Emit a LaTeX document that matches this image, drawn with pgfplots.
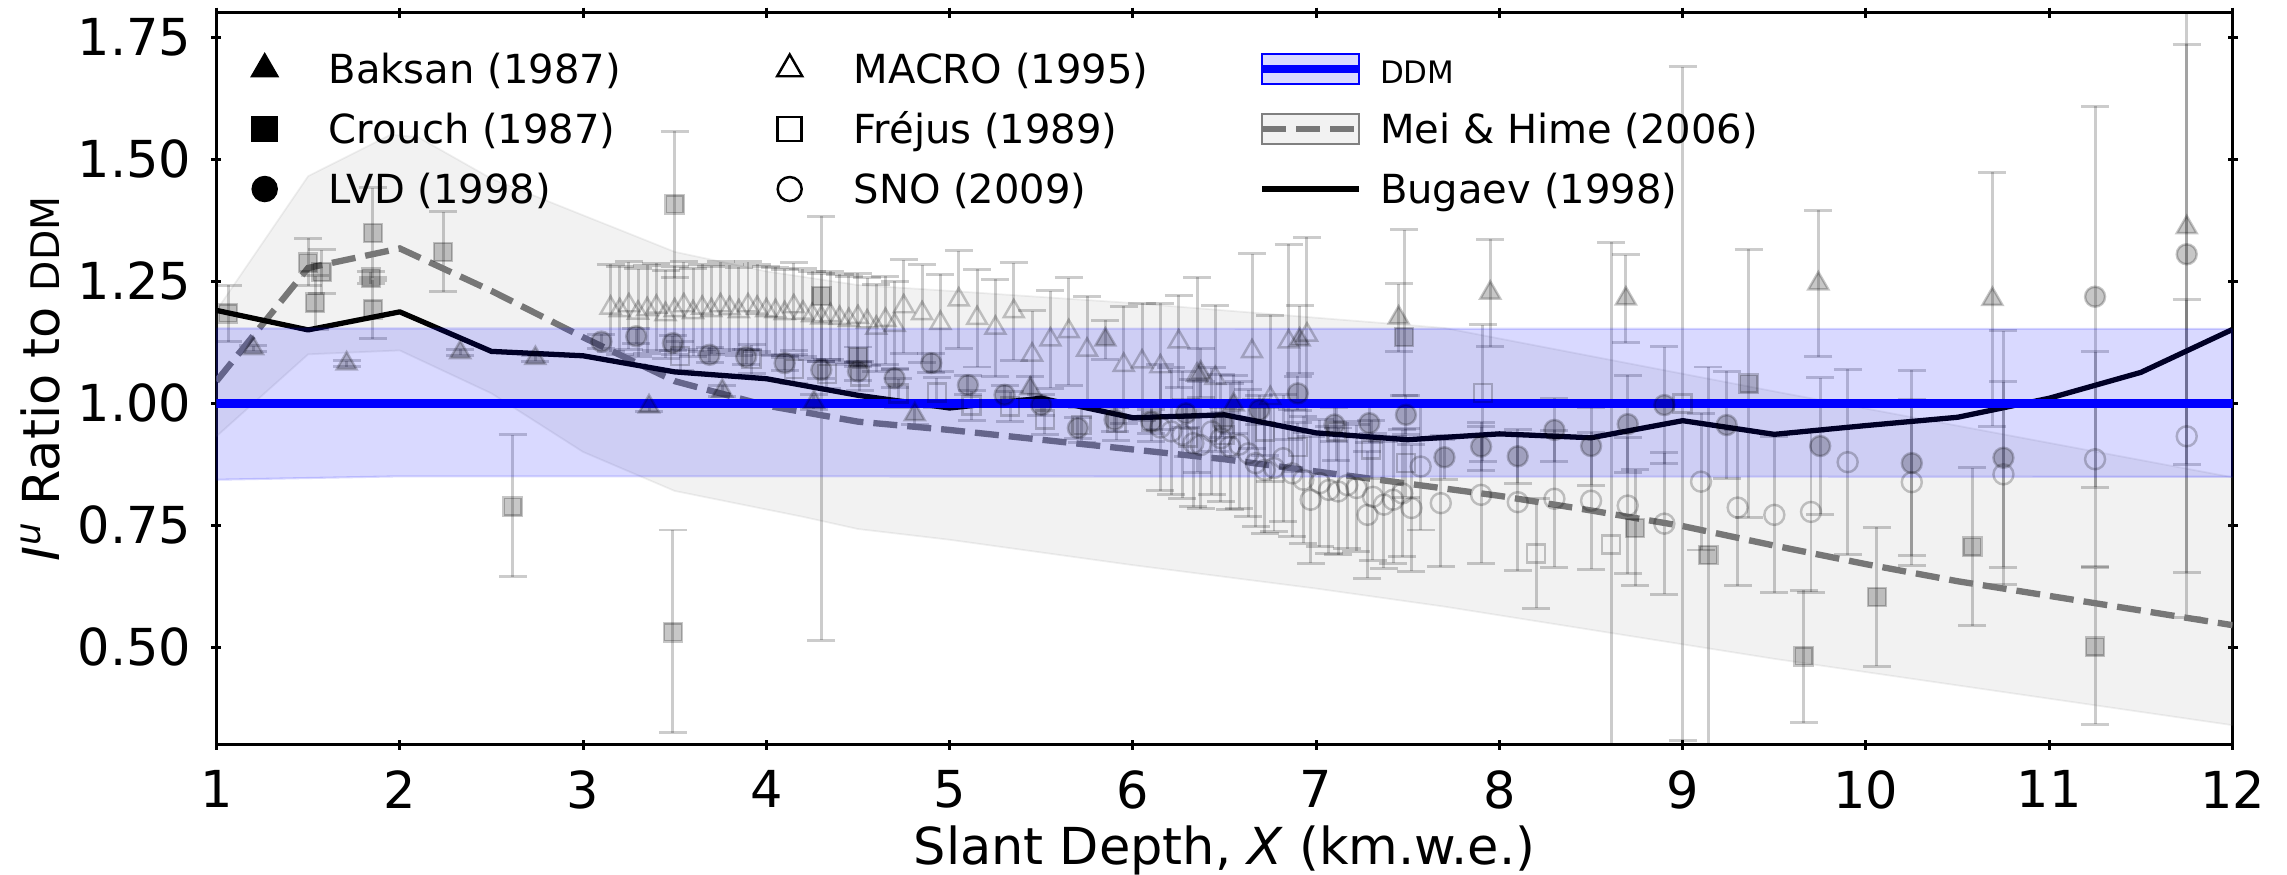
\documentclass[border=0pt]{standalone}
\usepackage{fontspec}
\setmainfont{DejaVu Sans}
\usepackage{pgfplots}
\usepackage{pgfplotstable}
\pgfplotsset{compat=1.18}

\definecolor{meiline}{HTML}{777777}

% point data: x = slant depth, y = ratio, e = error (or ep/em)
\pgfplotstableread{
x y e
1.20 1.112 0.006
1.71 1.081 0.006
2.33 1.104 0.006
2.74 1.092 0.006
3.36 0.993 0.010
3.76 1.025 0.012
4.26 1.002 0.015
4.81 0.977 0.020
5.44 1.030 0.025
5.85 1.130 0.040
6.37 1.062 0.050
6.55 0.997 0.060
6.91 1.130 0.070
7.45 1.175 0.070
7.95 1.226 0.110
8.69 1.214 0.090
9.74 1.245 0.150
10.69 1.213 0.260
11.75 1.360 0.800
}\baksan

\pgfplotstableread{
x y ep em
1.064 1.184 0.058 0.058
1.500 1.288 0.050 0.047
1.574 1.269 0.045 0.045
1.538 1.206 0.055 0.055
1.853 1.349 0.092 0.092
1.842 1.257 0.012 0.012
1.853 1.192 0.060 0.060
2.236 1.310 0.082 0.082
2.616 0.788 0.147 0.144
3.490 0.530 0.210 0.205
3.500 1.407 0.150 0.150
4.300 1.219 0.164 0.705
4.500 1.095 0.020 0.020
7.480 1.135 0.220 0.120
8.740 0.744 0.120 0.118
9.140 0.689 0.385 0.400
9.360 1.040 0.275 0.275
9.660 0.481 0.136 0.136
10.06 0.603 0.143 0.142
10.58 0.706 0.162 0.162
11.25 0.501 0.162 0.159
}\crouch

\pgfplotstableread{
x y e
3.10 1.126 0.015
3.29 1.137 0.015
3.49 1.123 0.015
3.69 1.099 0.015
3.89 1.095 0.015
4.10 1.082 0.015
4.30 1.068 0.018
4.50 1.065 0.018
4.70 1.051 0.018
4.90 1.082 0.020
5.10 1.037 0.020
5.30 1.017 0.020
5.50 0.996 0.022
5.70 0.949 0.022
5.90 0.966 0.025
6.10 0.962 0.025
6.29 0.979 0.028
6.49 0.960 0.030
6.69 0.986 0.030
6.90 1.020 0.035
7.10 0.956 0.035
7.29 0.959 0.040
7.49 0.976 0.040
7.70 0.889 0.045
7.90 0.911 0.050
8.10 0.891 0.055
8.30 0.945 0.065
8.50 0.912 0.080
8.70 0.957 0.100
8.90 0.996 0.120
9.24 0.955 0.110
9.75 0.912 0.140
10.25 0.877 0.190
10.75 0.888 0.260
11.25 1.218 0.390
11.75 1.305 0.430
}\lvd

\pgfplotstableread{
x y e
3.15 1.195 0.090
3.20 1.190 0.090
3.25 1.200 0.090
3.30 1.185 0.090
3.35 1.192 0.090
3.40 1.197 0.090
3.45 1.182 0.090
3.50 1.190 0.090
3.55 1.200 0.090
3.60 1.186 0.090
3.65 1.195 0.090
3.70 1.190 0.090
3.75 1.200 0.090
3.80 1.194 0.090
3.85 1.188 0.090
3.90 1.200 0.090
3.95 1.195 0.090
4.00 1.190 0.090
4.05 1.188 0.090
4.10 1.184 0.090
4.15 1.198 0.090
4.20 1.185 0.090
4.25 1.180 0.090
4.30 1.175 0.090
4.35 1.180 0.090
4.40 1.174 0.090
4.45 1.170 0.090
4.50 1.176 0.090
4.55 1.167 0.090
4.60 1.154 0.090
4.65 1.170 0.090
4.70 1.160 0.090
4.75 1.198 0.096
4.85 1.184 0.100
4.95 1.164 0.100
5.05 1.212 0.100
5.15 1.174 0.100
5.25 1.154 0.100
5.35 1.188 0.100
5.45 1.099 0.090
5.55 1.130 0.100
5.65 1.147 0.110
5.75 1.109 0.110
5.95 1.078 0.120
6.05 1.085 0.120
6.15 1.075 0.130
6.25 1.126 0.095
6.35 1.058 0.200
6.45 1.051 0.150
6.65 1.106 0.200
6.75 1.010 0.170
6.85 1.126 0.200
6.95 1.140 0.200
}\macro

\pgfplotstableread{
x y e
3.53 1.096 0.030
3.92 1.090 0.030
4.15 1.070 0.030
4.33 1.060 0.030
4.51 1.055 0.030
4.72 1.020 0.030
4.93 1.022 0.030
5.12 0.995 0.030
5.33 0.993 0.030
5.52 0.966 0.030
5.72 0.955 0.035
5.91 0.959 0.035
6.10 0.962 0.040
6.30 0.930 0.040
6.50 0.935 0.045
6.72 0.942 0.050
6.90 0.910 0.050
7.11 0.942 0.060
7.30 0.905 0.060
7.49 0.877 0.070
7.91 1.021 0.140
8.20 0.692 0.112
8.61 0.710 0.620
9.00 0.999 0.690
}\frejus

\pgfplotstableread{
x y e
6.15 0.950 0.130
6.21 0.942 0.130
6.27 0.935 0.130
6.33 0.918 0.130
6.37 0.914 0.130
6.43 0.942 0.130
6.48 0.928 0.130
6.53 0.911 0.130
6.58 0.915 0.130
6.63 0.897 0.130
6.67 0.877 0.130
6.72 0.863 0.130
6.77 0.867 0.130
6.82 0.887 0.130
6.87 0.856 0.130
6.93 0.843 0.130
6.97 0.802 0.130
7.02 0.836 0.130
7.07 0.822 0.130
7.12 0.819 0.130
7.17 0.832 0.130
7.22 0.826 0.130
7.28 0.771 0.130
7.31 0.808 0.130
7.37 0.792 0.130
7.42 0.802 0.130
7.47 0.815 0.130
7.52 0.785 0.130
7.57 0.870 0.130
7.68 0.795 0.130
7.90 0.812 0.140
8.10 0.797 0.140
8.30 0.804 0.140
8.50 0.800 0.140
8.70 0.790 0.140
8.90 0.753 0.145
9.10 0.839 0.140
9.30 0.786 0.160
9.50 0.771 0.160
9.70 0.777 0.165
9.90 0.879 0.190
10.25 0.838 0.170
10.75 0.854 0.190
11.25 0.885 0.220
11.75 0.932 0.280
}\sno

\pgfplotsset{
  expt/.style={only marks, forget plot, black,
    mark options={solid, line width=0.7pt, draw opacity=0.22, fill opacity=0.22},
    /pgfplots/error bars/y dir=both,
    /pgfplots/error bars/y explicit,
    /pgfplots/error bars/error bar style={black, line width=0.85pt, draw opacity=0.2},
    /pgfplots/error bars/error mark options={rotate=90, black, draw opacity=0.2,
      line width=0.85pt, mark size=1.4mm}},
  legmk/.style 2 args={legend image code/.code={%
      \path[draw=none] (-4.85mm,0mm) -- (6.4mm,0mm);
      \draw[black, solid, line width=0.7pt, mark size=#2, mark=#1] plot coordinates {(0mm,0mm)};}},
}

\newcommand{\smallddm}[1]{{\fontsize{#1}{#1}\selectfont DDM}}

\begin{document}
\begin{tikzpicture}
\begin{axis}[
    scale only axis,
    width=201.6mm, height=73.2mm,
    xmin=1, xmax=12, ymin=0.3, ymax=1.8,
    xtick={1,2,...,12},
    ytick={0.5,0.75,1,1.25,1.5,1.75},
    /pgf/number format/assume math mode=true,
    yticklabel style={/pgf/number format/fixed, /pgf/number format/fixed zerofill,
      /pgf/number format/precision=2, anchor=east, inner sep=0pt, xshift=-1.95mm},
    xticklabel style={anchor=north, inner sep=0pt, yshift=-2.0mm},
    scaled y ticks=false,
    tick label style={font=\fontsize{14.5}{16}\selectfont},
    tick align=center,
    major tick length=1mm,
    every tick/.style={black, line width=0.85pt},
    axis line style={line width=0.85pt},
    xlabel={Slant Depth, \textit{X} (km.w.e.)},
    ylabel={\textit{I}\textsuperscript{\textit{u}} Ratio to \smallddm{11.2}},
    every axis x label/.style={at={(axis description cs:0.5,-0.164)}, anchor=base,
      font=\fontsize{14.5}{16}\selectfont},
    every axis y label/.style={at={(axis description cs:-0.0781,0.5)}, anchor=base, rotate=90,
      font=\fontsize{14.5}{16}\selectfont},
    legend columns=3,
    legend style={at={(axis description cs:0,1)}, anchor=north west,
      xshift=-0.1mm, yshift=-2.56mm, draw=none, fill=none, inner sep=0pt,
      font=\fontsize{11.4}{13}\selectfont,
      cells={anchor=west},
      nodes={inner sep=0pt, text height=4.46mm, text depth=1.54mm},
      row sep=0pt, column sep=0pt},
]

% Mei & Hime uncertainty band
\addplot[forget plot, fill=gray, fill opacity=0.1, draw=gray, draw opacity=0.12, line width=0.5pt]
  coordinates {(1,1.19) (1.5,1.465) (1.95,1.55) (2.1,1.545) (2.5,1.46) (3,1.385) (3.5,1.31)
    (4,1.27) (4.5,1.242) (5,1.23) (6,1.205) (7,1.175) (7.7,1.154) (9.5,1.024) (12,0.848)
    (12,0.34) (9.5,0.476) (7.7,0.583) (7,0.62) (6,0.668) (5,0.72) (4.5,0.742) (4.2,0.767)
    (3.5,0.82) (3,0.9) (2.5,1.02) (2,1.108) (1.5,1.1) (1,0.932)} -- cycle;

% experimental data
\addplot[expt, mark=triangle*, mark size=1.15mm] table[x=x, y=y, y error=e] {\baksan};
\addplot[expt, mark=square*, mark size=0.9mm] table[x=x, y=y, y error plus=ep, y error minus=em] {\crouch};
\addplot[expt, mark=*, mark size=1.0mm] table[x=x, y=y, y error=e] {\lvd};
\addplot[expt, mark=triangle, mark size=1.15mm] table[x=x, y=y, y error=e] {\macro};
\addplot[expt, mark=square, mark size=0.9mm] table[x=x, y=y, y error=e] {\frejus};
\addplot[expt, mark=o, mark size=1.0mm] table[x=x, y=y, y error=e] {\sno};

% Mei & Hime central curve
\addplot[forget plot, meiline, line width=1.8pt, dash pattern=on 2.4mm off 1.0mm]
  coordinates {(1,1.045) (1.5,1.277) (2,1.317) (2.5,1.23) (3,1.135) (3.5,1.045) (4,0.995)
    (4.5,0.962) (5,0.945) (5.5,0.925) (6,0.905) (6.5,0.885) (7,0.86) (7.5,0.835) (8,0.81)
    (8.5,0.78) (9,0.748) (9.5,0.708) (10,0.67) (10.5,0.635) (11,0.605) (11.5,0.575) (12,0.545)};

% Bugaev
\addplot[forget plot, black, line width=1.5pt, line join=round]
  coordinates {(1,1.19) (1.5,1.15) (2,1.187) (2.5,1.106) (3,1.097) (3.5,1.064) (4,1.05)
    (4.5,1.016) (5,0.99) (5.5,1.01) (6,0.97) (6.5,0.976) (7,0.939) (7.5,0.925) (8,0.937)
    (8.5,0.929) (9,0.964) (9.5,0.936) (10,0.954) (10.5,0.971) (11,1.01) (11.5,1.063) (12,1.151)};

% DDM band and line
\addplot[forget plot, fill=blue, fill opacity=0.15, draw=blue, draw opacity=0.15, line width=0.6pt]
  coordinates {(1,1.153) (12,1.152) (12,0.849) (2,0.85) (1,0.843)} -- cycle;
\addplot[forget plot, blue, line width=2.5pt] coordinates {(1,1) (12,1)};

% legend (row by row)
\addlegendimage{legmk={triangle*}{1.45mm}}
\addlegendentry{\makebox[41.25mm][l]{Baksan (1987)}}
\addlegendimage{legmk={triangle}{1.45mm}}
\addlegendentry{\makebox[40.4mm][l]{MACRO (1995)}}
\addlegendimage{legend image code/.code={%
    \path[draw=none] (0mm,0mm) -- (11.8mm,0mm);
    \fill[blue, fill opacity=0.15] (0mm,-1.5mm) rectangle (9.7mm,1.5mm);
    \draw[blue, draw opacity=0.2, line width=0.6pt] (0mm,-1.5mm) rectangle (9.7mm,1.5mm);
    \draw[blue, line width=2.5pt] (0mm,0mm) -- (9.7mm,0mm);}}
\addlegendentry{\smallddm{8.8}}
\addlegendimage{legmk={square*}{1.2mm}}
\addlegendentry{\makebox[41.25mm][l]{Crouch (1987)}}
\addlegendimage{legmk={square}{1.2mm}}
\addlegendentry{\makebox[40.4mm][l]{Fréjus (1989)}}
\addlegendimage{legend image code/.code={%
    \path[draw=none] (0mm,0mm) -- (11.8mm,0mm);
    \fill[gray, fill opacity=0.1] (0mm,-1.5mm) rectangle (9.7mm,1.5mm);
    \draw[gray, draw opacity=0.12, line width=0.6pt] (0mm,-1.5mm) rectangle (9.7mm,1.5mm);
    \draw[meiline, line width=1.8pt, dash pattern=on 2.4mm off 1.0mm] (0mm,0mm) -- (9.7mm,0mm);}}
\addlegendentry{Mei \& Hime (2006)}
\addlegendimage{legmk={*}{1.2mm}}
\addlegendentry{\makebox[41.25mm][l]{LVD (1998)}}
\addlegendimage{legmk={o}{1.2mm}}
\addlegendentry{\makebox[40.4mm][l]{SNO (2009)}}
\addlegendimage{legend image code/.code={%
    \path[draw=none] (0mm,0mm) -- (11.8mm,0mm);
    \draw[black, line width=1.5pt] (0mm,0mm) -- (9.7mm,0mm);}}
\addlegendentry{Bugaev (1998)}

\end{axis}
\pgfresetboundingbox
\path[use as bounding box] (-21.65mm,-13.0mm) rectangle (207.05mm,74.47mm);
\end{tikzpicture}
\end{document}
